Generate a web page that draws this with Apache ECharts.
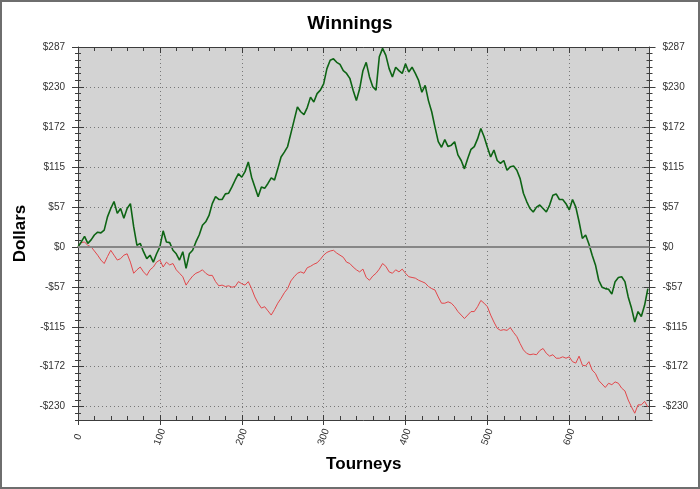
<!DOCTYPE html>
<html><head><meta charset="utf-8">
<script src="https://cdn.jsdelivr.net/npm/echarts@6/dist/echarts.min.js"></script>
<style>
html,body{margin:0;padding:0;background:#fff}
#c{width:700px;height:489px}
#f{position:absolute;left:0;top:0;width:700px;height:489px;box-sizing:border-box;border:2px solid #6e6e6e;pointer-events:none}
</style>
</head><body><div id="c"></div><div id="f"></div>
<script>
// Tourneys are sampled every 4 (0, 4, 8, ... 696)
const tourneyStep = 4;
const xMax = 698;

const green = [
  0,7,15,5,10,17,21,20,24,43, 55,65,48,55,41,55,62,29,2,5,
  -7,-17,-12,-22,-10,0,23,7,6,-5, -10,-19,-7,-31,-10,-5,
  7,17,31,36,45,62,72,68,68,76, 77,86,96,105,100,108,122,100,86,72,
  86,84,91,99,96,112,129,136,144,163, 182,201,194,190,200,
  215,208,220,225,234,256,268,270,265,262, 253,249,242,225,210,227,253,265,244,230,
  225,273,285,275,256,244,258,253,249,263, 251,258,249,239,222,
  232,210,194,172,151,143,154,144,146,151, 132,124,112,127,140,144,155,170,158,143,
  129,139,124,120,124,110,115,116,110,98, 77,65,55,50,57,60,
  55,50,60,74,76,68,68,62,53,68, 57,36,12,17,4,-12,-26,-48,-58,-60,
  -61,-68,-50,-44,-43,-50,-72,-88,-108,-93, -100,-84,-60
];
const red = [
  0,6,7,2,0,-6,-12,-19,-24,-14, -5,-12,-19,-17,-12,-10,-22,-38,-33,-29,
  -36,-41,-33,-29,-22,-19,-29,-22,-26,-24, -33,-38,-43,-55,-48,-42,
  -38,-36,-33,-38,-41,-41,-50,-56,-55,-57, -56,-58,-57,-50,-53,-55,-50,-60,-72,-81,
  -88,-86,-92,-98,-90,-81,-74,-66,-60,-49, -43,-38,-36,-38,-30,
  -28,-25,-23,-18,-12,-8,-6,-5,-9,-12, -15,-22,-24,-29,-33,-36,-32,-44,-48,-42,
  -38,-32,-24,-28,-36,-38,-33,-36,-32,-38, -43,-44,-45,-48,-50,
  -52,-57,-60,-62,-72,-81,-81,-79,-81,-86, -93,-98,-103,-98,-93,-93,-86,-77,-81,-86,
  -98,-108,-117,-120,-119,-120,-116,-123,-129,-139, -148,-153,-155,-154,-155,-149,
  -146,-153,-157,-155,-160,-160,-158,-160,-158,-165, -167,-157,-170,-171,-165,-177,-182,-192,-197,-202,
  -196,-198,-194,-196,-203,-207,-220,-230,-239,-227, -227,-222,-230
];

const yMajorStep = 57.4;
const yTickValues = [-229.6,-172.2,-114.8,-57.4,0,57.4,114.8,172.2,229.6,287];
const yMinorStep = yMajorStep / 6;
const yMin = -26 * yMinorStep;
const yMax = 287;
const xMinorStep = 20;

const FONT = 'Liberation Sans, Arial, sans-serif';
const LINE = '#3c3c3c';

function fmtDollar(v){
  const r = Math.round(Math.abs(v));
  return (v < -0.001 ? '-' : '') + '$' + r;
}

function yTickAxis(pos, inside, len, useMinor){
  const a = {
    type:'value', position:pos, min:yMin, max:yMax,
    axisLine:{show:false, onZero:false},
    axisTick:{show:true, inside:inside, length:len, lineStyle:{color:LINE}},
    axisLabel:{show:false}, splitLine:{show:false}
  };
  if (useMinor) a.interval = yMinorStep; else a.axisTick.customValues = yTickValues;
  return a;
}
function xTickAxis(pos, inside, len, interval){
  return {
    type:'value', position:pos, min:0, max:xMax, interval:interval,
    axisLine:{show:false, onZero:false},
    axisTick:{show:true, inside:inside, length:len, lineStyle:{color:LINE}},
    axisLabel:{show:false}, splitLine:{show:false}
  };
}

const chart = echarts.init(document.getElementById('c'), null, {renderer:'canvas'});
chart.setOption({
  animation:false,
  backgroundColor:'#ffffff',
  title:{text:'Winnings', left:'center', top:9,
    textStyle:{fontFamily:FONT, fontSize:19, fontWeight:'bold', color:'#000'}},
  grid:{left:78, right:50.5, top:47, bottom:69, show:true,
    backgroundColor:'#d3d3d3', borderWidth:0},
  xAxis:[
    {type:'value', position:'bottom', min:0, max:xMax, interval:100,
     name:'Tourneys', nameLocation:'middle', nameGap:36,
     nameTextStyle:{fontFamily:FONT, fontSize:17, fontWeight:'bold', color:'#000'},
     axisLine:{show:true, onZero:false, lineStyle:{color:LINE}},
     axisTick:{show:true, length:5, lineStyle:{color:LINE}},
     axisLabel:{rotate:70, align:'center', verticalAlign:'middle', margin:17,
       showMaxLabel:false, fontFamily:FONT, fontSize:10, color:'#333'},
     splitLine:{show:true, lineStyle:{color:'#777', type:[1,3], width:1}}},
    xTickAxis('bottom', true, 5, 100),
    xTickAxis('bottom', true, 4, xMinorStep),
    {type:'value', position:'top', min:0, max:xMax, interval:xMinorStep,
     axisLine:{show:true, onZero:false, lineStyle:{color:LINE}},
     axisTick:{show:true, inside:true, length:4, lineStyle:{color:LINE}},
     axisLabel:{show:false}, splitLine:{show:false}},
    xTickAxis('top', true, 6, 100)
  ],
  yAxis:[
    {type:'value', position:'left', min:yMin, max:yMax,
     name:'Dollars', nameLocation:'middle', nameGap:44,
     nameTextStyle:{fontFamily:FONT, fontSize:17, fontWeight:'bold', color:'#000'},
     axisLine:{show:true, onZero:false, lineStyle:{color:LINE}},
     axisTick:{show:true, customValues:yTickValues, length:6, lineStyle:{color:LINE}},
     axisLabel:{customValues:yTickValues, formatter:fmtDollar, margin:13,
       fontFamily:FONT, fontSize:10, color:'#333'},
     splitLine:{show:true, lineStyle:{color:'#777', type:[1,3], width:1}}},
    yTickAxis('left', true, 6, false),
    yTickAxis('left', true, 3, true),
    yTickAxis('left', false, 3, true),
    {type:'value', position:'right', min:yMin, max:yMax,
     axisLine:{show:true, onZero:false, lineStyle:{color:LINE}},
     axisTick:{show:true, customValues:yTickValues, length:6, lineStyle:{color:LINE}},
     axisLabel:{customValues:yTickValues, formatter:fmtDollar, margin:13,
       fontFamily:FONT, fontSize:10, color:'#333'},
     splitLine:{show:false}},
    yTickAxis('right', true, 6, false),
    yTickAxis('right', true, 3, true),
    yTickAxis('right', false, 3, true)
  ],
  series:[
    {type:'line', name:'Red', xAxisIndex:0, yAxisIndex:0, showSymbol:false, symbol:'none',
     data: red.map((v,i)=>[i*tourneyStep, v]),
     lineStyle:{color:'#e2474b', width:1}, z:3,
     markLine:{silent:true, symbol:['none','none'], label:{show:false},
       lineStyle:{color:'#868686', width:2, type:'solid'},
       data:[{yAxis:0}]}},
    {type:'line', name:'Green', xAxisIndex:0, yAxisIndex:0, showSymbol:false, symbol:'none',
     data: green.map((v,i)=>[i*tourneyStep, v]),
     lineStyle:{color:'#0d6414', width:1.6}, z:4}
  ]
});
</script>
</body></html>
